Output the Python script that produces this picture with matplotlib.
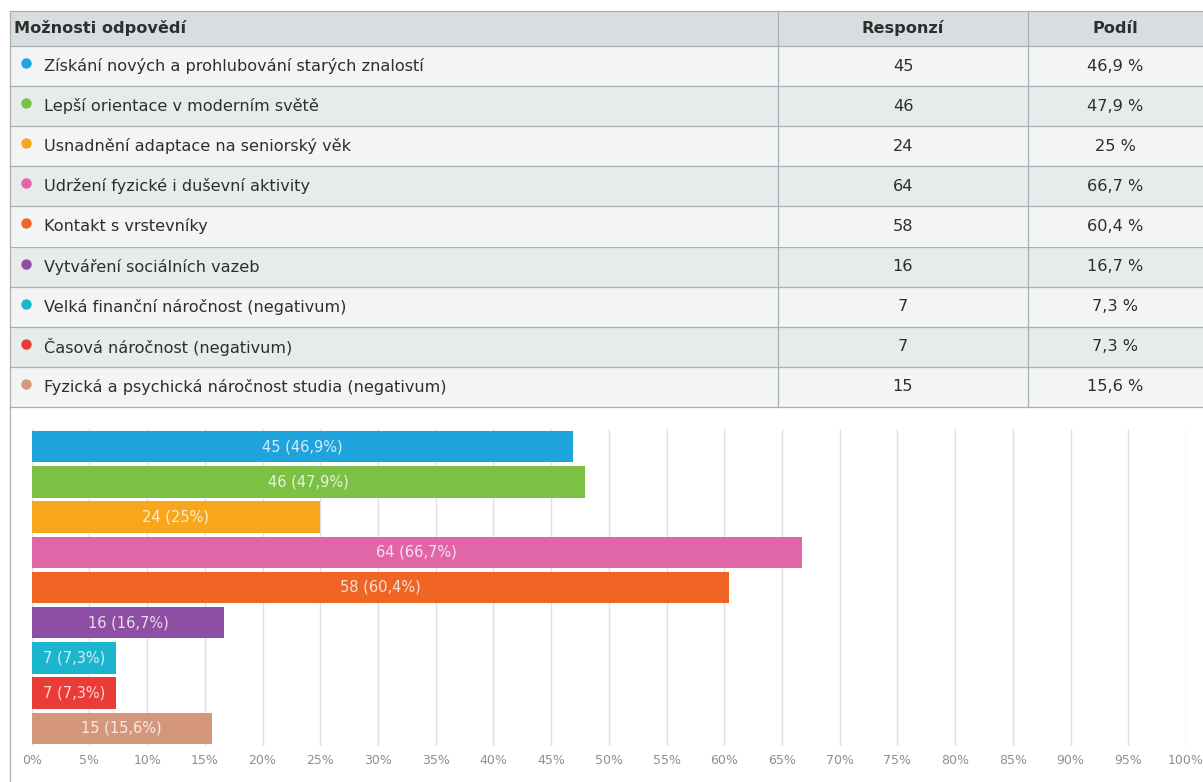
import matplotlib.pyplot as plt
from matplotlib.patches import Rectangle

# survey answers
options = [
    'Získání nových a prohlubování starých znalostí',
    'Lepší orientace v moderním světě',
    'Usnadnění adaptace na seniorský věk',
    'Udržení fyzické i duševní aktivity',
    'Kontakt s vrstevníky',
    'Vytváření sociálních vazeb',
    'Velká finanční náročnost (negativum)',
    'Časová náročnost (negativum)',
    'Fyzická a psychická náročnost studia (negativum)',
]
responses = [45, 46, 24, 64, 58, 16, 7, 7, 15]
shares = [46.9, 47.9, 25, 66.7, 60.4, 16.7, 7.3, 7.3, 15.6]
colors = ['#1fa3dc', '#7cc143', '#f8a61c', '#e066a8', '#f06424',
          '#8d4fa3', '#1bb6cd', '#ea3c37', '#d4977c']
ticks = list(range(0, 101, 5))

W, H = 1203, 782
fig = plt.figure(figsize=(W / 100, H / 100), dpi=100)
fig.patch.set_facecolor('white')

def fmt(v):
    s = ('%.1f' % v).rstrip('0').rstrip('.')
    return s.replace('.', ',')

# ---- table drawn in pixel coordinates ----
tab = fig.add_axes([0, 0, 1, 1])
tab.set_xlim(0, W)
tab.set_ylim(H, 0)
tab.axis('off')

border = '#a9b0b3'
txt = '#2e2e2e'
fs = 11.6
x0, c1, c2, x3 = 10, 778, 1028, 1210
head_top, head_bot = 11, 46
row_h = 40.1

tab.add_patch(Rectangle((x0, head_top), x3 - x0, head_bot - head_top,
                        facecolor='#d8dde0', edgecolor='none'))
hy = (head_top + head_bot) / 2
tab.text(14, hy, 'Možnosti odpovědí', fontsize=fs, fontweight='bold',
         va='center', ha='left', color=txt)
tab.text((c1 + c2) / 2, hy, 'Responzí', fontsize=fs, fontweight='bold',
         va='center', ha='center', color=txt)
tab.text((c2 + 1203) / 2, hy, 'Podíl', fontsize=fs, fontweight='bold',
         va='center', ha='center', color=txt)

for i, (lab, n, p, col) in enumerate(zip(options, responses, shares, colors)):
    top = head_bot + i * row_h
    bg = '#f3f4f5' if i % 2 == 0 else '#e7ebec'
    tab.add_patch(Rectangle((x0, top), x3 - x0, row_h, facecolor=bg, edgecolor='none'))
    cy = top + row_h / 2
    tab.plot(26, cy - 3, 'o', ms=7.5, color=col, mec='none')
    tab.text(44, cy, lab, fontsize=fs, va='center', ha='left', color=txt)
    tab.text((c1 + c2) / 2, cy, str(n), fontsize=fs,
             va='center', ha='center', color=txt)
    tab.text((c2 + 1203) / 2, cy, fmt(p) + ' %', fontsize=fs,
             va='center', ha='center', color=txt)

table_bot = head_bot + len(options) * row_h
for k in range(len(options) + 2):
    yy = head_top if k == 0 else head_bot + (k - 1) * row_h
    tab.plot([x0, x3], [yy, yy], color=border, lw=0.9)
for xx in (c1, c2):
    tab.plot([xx, xx], [head_top, table_bot], color=border, lw=0.9)
tab.plot([x0, x0], [head_top, H], color=border, lw=0.9)

# ---- bar chart ----
ax = fig.add_axes([31.7 / W, 1 - 746 / H, (1186 - 31.7) / W, 317 / H])
ypos = list(range(len(options)))
ax.barh(ypos, shares, height=0.89, color=colors, zorder=2)
for y, n, p in zip(ypos, responses, shares):
    ax.text(p / 2, y, '%d (%s%%)' % (n, fmt(p)), ha='center', va='center',
            fontsize=10.5, color='white', alpha=0.8, zorder=3)
ax.set_xlim(0, 100)
ax.set_ylim(len(options) - 0.5, -0.5)
ax.set_xticks(ticks)
ax.set_xticklabels(['%d%%' % t for t in ticks], fontsize=9, color='#8e8e8e')
ax.set_yticks([])
ax.tick_params(axis='x', length=0, pad=6)
ax.grid(axis='x', color='#e0e0e0', lw=1.0, zorder=0)
for s in ax.spines.values():
    s.set_visible(False)
ax.set_facecolor('none')

fig.savefig('out.png', dpi=100, facecolor='white')
